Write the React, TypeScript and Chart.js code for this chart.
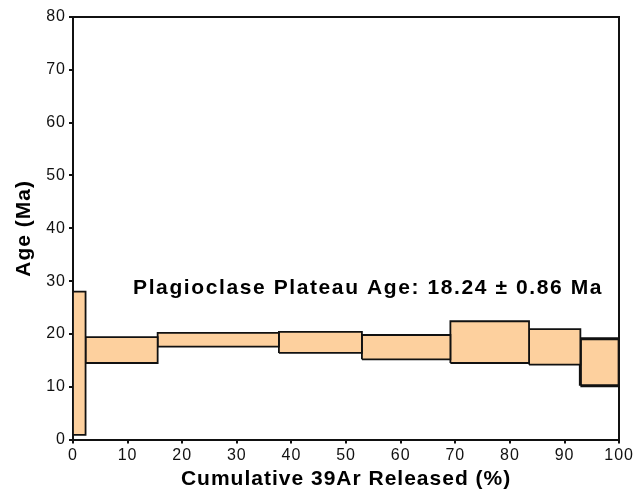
import React, { useEffect, useRef } from "react";
import { Chart, registerables } from "chart.js";

Chart.register(...registerables);

// Step boundaries (cumulative % 39Ar released)
const stepStart = [0, 2.3, 15.5, 37.7, 52.9, 69.1, 83.5, 92.9];
const stepEnd = [2.3, 15.5, 37.7, 52.9, 69.1, 83.5, 92.9, 100];
// Age envelope (Ma)
const ageLow = [0.9, 14.5, 17.6, 16.4, 15.2, 14.5, 14.2, 10.2];
const ageHigh = [28.0, 19.4, 20.2, 20.4, 19.8, 22.4, 20.9, 19.1];
const borderWidths = [1.8, 1.8, 1.8, 1.8, 1.8, 1.8, 1.8, 3];

const xTicks = [0, 10, 20, 30, 40, 50, 60, 70, 80, 90, 100];
const yTicks = [0, 10, 20, 30, 40, 50, 60, 70, 80];

const plateauText = "Plagioclase Plateau Age: 18.24 \u00B1 0.86 Ma";
const plateauTextX = 11;
const plateauTextY = 28.7;

const FONT = "'Liberation Sans', Arial, sans-serif";
const FILL = "#FDD09E";

export default function App() {
  const ref = useRef<HTMLCanvasElement | null>(null);

  useEffect(() => {
    document.body.style.margin = "0";
    const canvas = ref.current;
    if (!canvas) return;

    const datasets = stepStart.map((x0, i) => ({
      type: "line" as const,
      data: [
        { x: x0, y: ageLow[i] },
        { x: x0, y: ageHigh[i] },
        { x: stepEnd[i], y: ageHigh[i] },
        { x: stepEnd[i], y: ageLow[i] },
        { x: x0, y: ageLow[i] },
      ],
      borderColor: "#111",
      borderWidth: borderWidths[i],
      backgroundColor: FILL,
      fill: "shape" as any,
      pointRadius: 0,
      tension: 0,
      showLine: true,
    }));

    const spacingPlugin = {
      id: "letterSpacing",
      afterInit(chart: any) {
        try {
          chart.ctx.letterSpacing = "1px";
        } catch (e) {}
      },
      beforeUpdate(chart: any) {
        try {
          chart.ctx.letterSpacing = "1px";
        } catch (e) {}
      },
    };

    const textPlugin = {
      id: "plateauText",
      afterDatasetsDraw(chart: any) {
        const { ctx, scales } = chart;
        ctx.save();
        try {
          ctx.letterSpacing = "1.6px";
        } catch (e) {}
        ctx.font = `bold 21px ${FONT}`;
        ctx.fillStyle = "#000";
        ctx.textAlign = "left";
        ctx.textBaseline = "middle";
        ctx.fillText(
          plateauText,
          scales.x.getPixelForValue(plateauTextX),
          scales.y.getPixelForValue(plateauTextY)
        );
        ctx.restore();
      },
    };

    const chart = new Chart(canvas, {
      type: "scatter",
      data: { datasets: datasets as any },
      plugins: [spacingPlugin, textPlugin],
      options: {
        animation: false,
        responsive: false,
        maintainAspectRatio: false,
        layout: { padding: { top: 9, right: 0, left: 12, bottom: 2 } },
        plugins: { legend: { display: false }, tooltip: { enabled: false } },
        scales: {
          x: {
            type: "linear",
            min: 0,
            max: 100,
            afterBuildTicks: (s: any) => {
              s.ticks = xTicks.map((v) => ({ value: v }));
            },
            ticks: { color: "#111", font: { family: FONT, size: 16 }, padding: 2, maxRotation: 0 },
            grid: { display: true, drawOnChartArea: false, drawTicks: true, tickLength: 4, color: "#111", lineWidth: 2 },
            border: { display: true, color: "#111", width: 2 },
            title: {
              display: true,
              text: "Cumulative 39Ar Released (%)",
              color: "#000",
              font: { family: FONT, size: 21, weight: "bold" },
              padding: { top: 0, bottom: 0 },
            },
          },
          xTop: {
            type: "linear",
            position: "top",
            min: 0,
            max: 100,
            ticks: { display: false },
            grid: { display: false },
            border: { display: true, color: "#111", width: 2 },
          },
          y: {
            type: "linear",
            min: 0,
            max: 80,
            afterBuildTicks: (s: any) => {
              s.ticks = yTicks.map((v) => ({ value: v }));
            },
            ticks: { color: "#111", font: { family: FONT, size: 16 }, padding: 3 },
            grid: { display: true, drawOnChartArea: false, drawTicks: true, tickLength: 4, color: "#111", lineWidth: 2 },
            border: { display: true, color: "#111", width: 2 },
            title: {
              display: true,
              text: "Age (Ma)",
              color: "#000",
              font: { family: FONT, size: 21, weight: "bold" },
              padding: { top: 0, bottom: 6 },
            },
          },
          yRight: {
            type: "linear",
            position: "right",
            min: 0,
            max: 80,
            ticks: { display: false },
            grid: { display: false },
            border: { display: true, color: "#111", width: 2 },
          },
        },
      } as any,
    });

    return () => chart.destroy();
  }, []);

  return (
    <div style={{ width: 636, height: 494, background: "#fff" }}>
      <canvas ref={ref} width={636} height={494} style={{ display: "block" }} />
    </div>
  );
}
